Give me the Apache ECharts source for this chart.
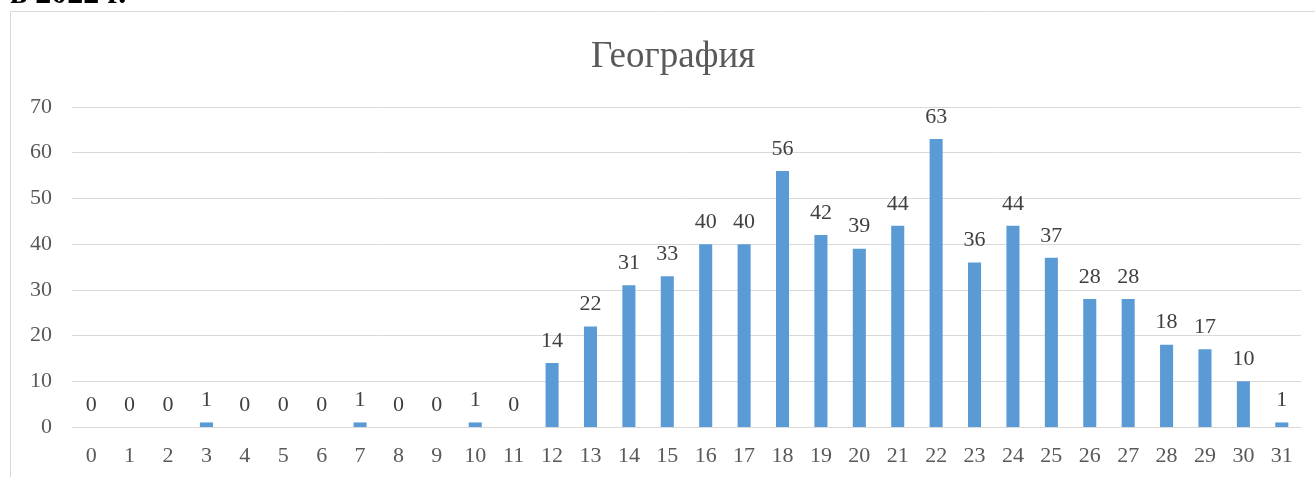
<!DOCTYPE html>
<html>
<head>
    <meta charset="UTF-8">
    <title>География</title>
    <script src="https://cdn.jsdelivr.net/npm/echarts@6/dist/echarts.min.js"></script>
    <style>
        html, body { margin: 0; padding: 0; background: #fff; }
    </style>
</head>
<body>
    <div id="main" style="width: 1315px; height: 477px;"></div>
    <script>
        // баллы (категории)
        var scores = [];
        for (var i = 0; i <= 31; i++) scores.push(String(i));
        // количество участников
        var counts = [0, 0, 0, 1, 0, 0, 0, 1, 0, 0, 1, 0, 14, 22, 31, 33, 40, 40, 56, 42, 39, 44, 63, 36, 44, 37, 28, 28, 18, 17, 10, 1];
        var yTicks = { min: 0, max: 70, interval: 10 };

        var myChart = echarts.init(document.getElementById('main'));
        var serif = '"Liberation Serif", "Times New Roman", serif';

        var option = {
            backgroundColor: '#fff',
            animation: false,
            title: {
                text: 'География',
                left: 586,
                top: 34,
                textStyle: { color: '#595959', fontSize: 37, fontWeight: 'normal', fontFamily: serif }
            },
            graphic: [
                {
                    type: 'rect',
                    shape: { x: 10.5, y: 11.5, width: 1320, height: 480 },
                    style: { fill: 'none', stroke: '#d9d9d9', lineWidth: 1 },
                    silent: true
                },
                {
                    type: 'text',
                    left: 10,
                    top: -21,
                    style: { text: 'в 2022 г.', fill: '#000', font: 'bold 32px ' + serif }
                }
            ],
            grid: { left: 72, right: 14, top: 107, bottom: 50 },
            xAxis: {
                type: 'category',
                data: scores,
                axisLine: { show: true, lineStyle: { color: '#d9d9d9' } },
                axisTick: { show: false },
                axisLabel: { color: '#595959', fontSize: 22, fontFamily: serif, margin: 18, interval: 0 }
            },
            yAxis: {
                type: 'value',
                min: yTicks.min,
                max: yTicks.max,
                interval: yTicks.interval,
                axisLine: { show: false },
                axisTick: { show: false },
                splitLine: { lineStyle: { color: '#d9d9d9' } },
                axisLabel: { color: '#595959', fontSize: 22, fontFamily: serif, margin: 20 }
            },
            series: [{
                type: 'bar',
                data: counts,
                barWidth: '34%',
                itemStyle: { color: '#5b9bd5' },
                label: {
                    show: true,
                    position: 'top',
                    distance: 11,
                    color: '#404040',
                    fontSize: 22,
                    fontFamily: serif
                }
            }]
        };
        myChart.setOption(option);
    </script>
</body>
</html>
